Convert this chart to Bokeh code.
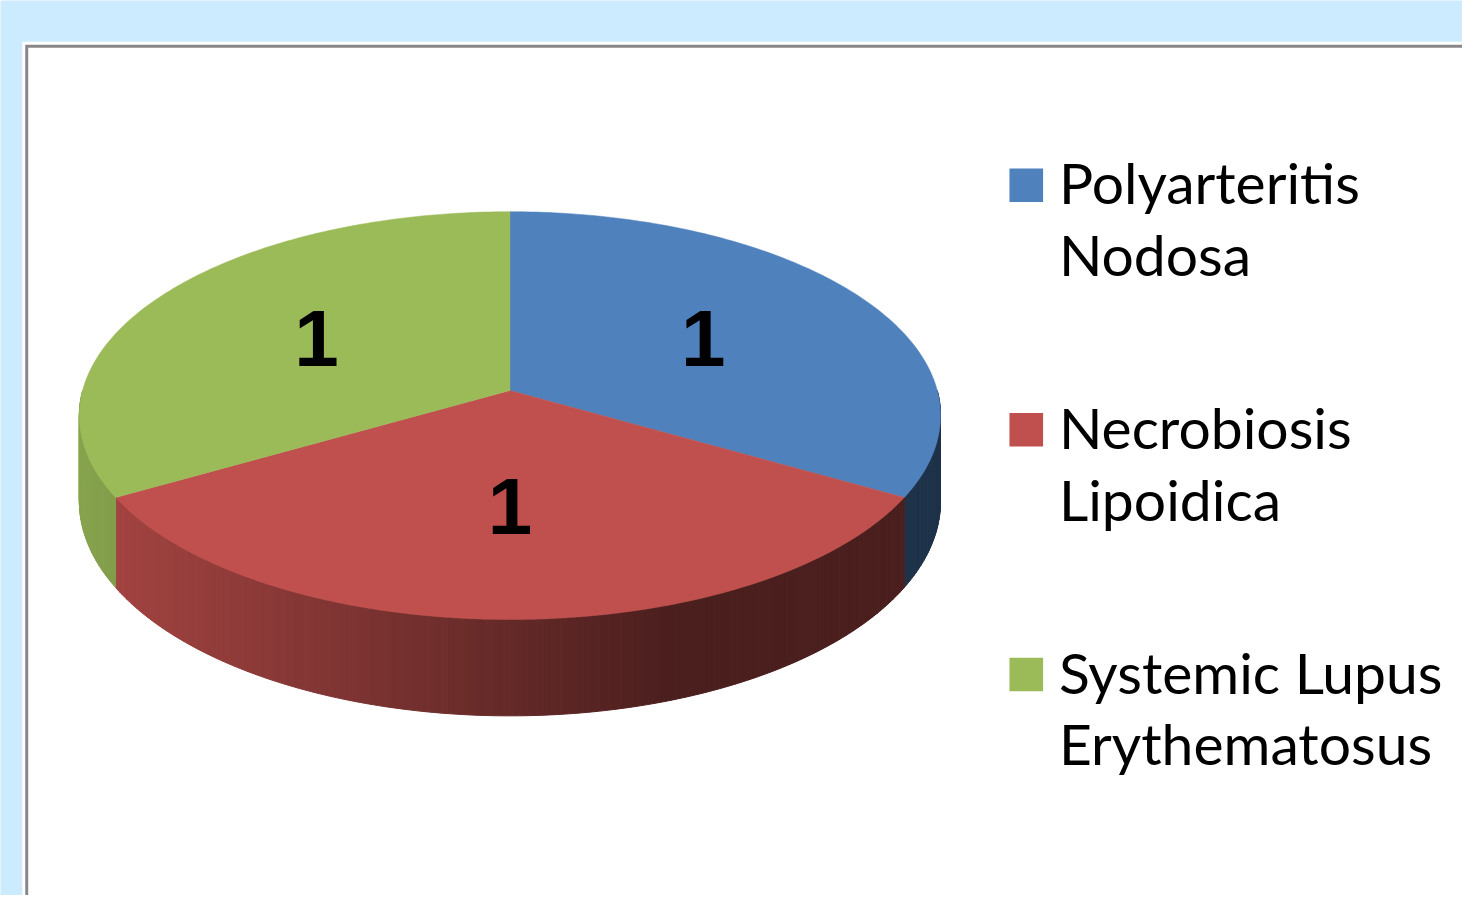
import math
from bokeh.plotting import figure
from bokeh.models import Range1d
from bokeh.core.properties import value
from bokeh.embed import file_html
from bokeh.resources import INLINE

# ---- data ----
categories = ["Polyarteritis Nodosa", "Necrobiosis Lipoidica", "Systemic Lupus Erythematosus"]
legend_line1 = ["Polyarteritis", "Necrobiosis", "Systemic Lupus"]
legend_line2 = ["Nodosa", "Lipoidica", "Erythematosus"]
values = [1, 1, 1]
colors = ["#4F81BD", "#C0504D", "#9BBB59"]

# ---- geometry / style constants (reference pixel space) ----
W, H = 1462, 895
CX, CY = 515.0, 397.0       # pie centre on screen
R = 432.0                   # horizontal radius
B = 204.4                   # vertical radius (tilt)
A = 0.123                   # perspective strength
D = 86.0                    # thickness
LABEL_F = 0.54

def proj(theta_deg, f=1.0, drop=0.0):
    t = math.radians(theta_deg)
    u, v = f * math.cos(t), f * math.sin(t)
    k = 1.0 / (1.0 + A * v)
    return CX + R * u * k, CY - B * v * k + drop * k

def shade(hexcol, x):
    fac = 0.845 - (x - 117.0) / (680.0 - 117.0) * (0.845 - 0.39)
    fac = max(0.39, min(0.88, fac))
    r, g, b = (int(hexcol[i:i + 2], 16) for i in (1, 3, 5))
    return "#%02x%02x%02x" % (int(r * fac), int(g * fac), int(b * fac))

p = figure(width=W, height=H, output_backend="svg", toolbar_location=None,
           x_range=Range1d(0, 1478), y_range=Range1d(911, 0),
           min_border=0, outline_line_color=None,
           background_fill_color="#CCEBFF", border_fill_color="#CCEBFF")
p.axis.visible = False
p.grid.visible = False

# frame
p.quad(left=[22], right=[1500], top=[42], bottom=[940], fill_color="white", line_color=None)
p.quad(left=[25], right=[1500], top=[45], bottom=[940], fill_color="#878787", line_color=None)
p.quad(left=[28], right=[1500], top=[48], bottom=[940], fill_color="white", line_color=None)

# slice angles (clockwise from 12 o'clock)
total = float(sum(values))
starts, ends = [], []
a0 = 90.0
for v in values:
    a1 = a0 - 360.0 * v / total
    starts.append(a0)
    ends.append(a1)
    a0 = a1

# side faces (front half: angles in [-180, 0])
sx, sy, sc = [], [], []
for i in range(len(values)):
    hi, lo = starts[i], ends[i]
    for shift in (0.0, -360.0, 360.0):
        h2, l2 = hi + shift, lo + shift
        vh, vl = min(h2, 0.0), max(l2, -180.0)
        if vh > vl:
            n = max(2, int((vh - vl) * 1.5))
            for j in range(n):
                t0 = vh - (vh - vl) * j / n
                t1 = vh - (vh - vl) * (j + 1) / n
                p0 = proj(t0); p1 = proj(t1)
                q1 = proj(t1, drop=D); q0 = proj(t0, drop=D)
                sx.append([p0[0], p1[0], q1[0], q0[0]])
                sy.append([p0[1], p1[1], q1[1], q0[1]])
                sc.append(shade(colors[i], (p0[0] + p1[0]) / 2))
p.patches(sx, sy, fill_color=sc, line_color=sc, line_width=1)

# top faces
tx, ty = [], []
for i in range(len(values)):
    n = 120
    xs, ys = [CX], [CY]
    for j in range(n + 1):
        t = starts[i] + (ends[i] - starts[i]) * j / n
        x, y = proj(t)
        xs.append(x); ys.append(y)
    tx.append(xs); ty.append(ys)
p.patches(tx, ty, fill_color=colors, line_color=colors, line_width=0.5)

# data labels
lx, ly, lt = [], [], []
for i in range(len(values)):
    mid = (starts[i] + ends[i]) / 2
    x, y = proj(mid, f=LABEL_F)
    lx.append(x); ly.append(y); lt.append(str(values[i]))
p.text(lx, ly, text=lt, text_font=value("Liberation Sans"), text_font_style="bold",
       text_font_size="80px", text_align="center", text_baseline="middle",
       text_color="black")

# legend
LEG_Y0, LEG_DY = 188.0, 249.0
gy = [LEG_Y0 + i * LEG_DY for i in range(len(categories))]
p.rect(x=[1037] * len(gy), y=gy, width=34, height=34, fill_color=colors, line_color=None)
p.text([1070] * len(gy), [g - 3 for g in gy], text=legend_line1, text_font=value("Lato"),
       text_font_size="57px", text_baseline="middle", text_color="black")
p.text([1070] * len(gy), [g + 70 for g in gy], text=legend_line2, text_font=value("Lato"),
       text_font_size="57px", text_baseline="middle", text_color="black")

open("out.html", "w").write(file_html(p, INLINE))
